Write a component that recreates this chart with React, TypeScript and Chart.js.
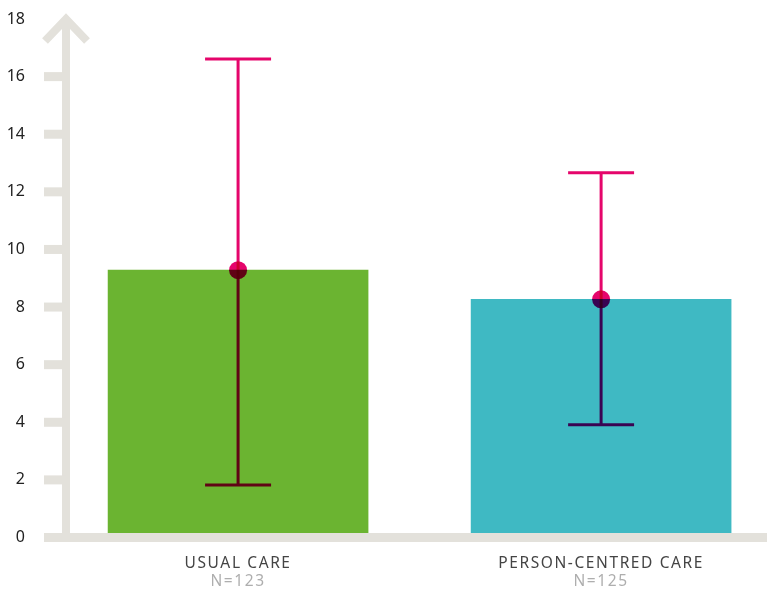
import { useEffect, useRef } from "react";
import { Chart, registerables } from "chart.js";

Chart.register(...registerables);

const categories = ["USUAL CARE", "PERSON-CENTRED CARE"];
const sampleSizes = ["N=123", "N=125"];
const means = [9.28, 8.27];
const lowerCI = [1.82, 3.91];
const upperCI = [16.61, 12.66];
const barColors = ["#6BB431", "#3FB9C3"];

const AXIS_COLOR = "#E3E1DB";
const ERR_COLOR = "#E5056B";
const FONT = "'Noto Sans', 'Open Sans', sans-serif";

const decorPlugin = {
  id: "decor",
  afterDatasetsDraw(chart: any) {
    const { ctx, chartArea, scales } = chart;
    const x = scales.x;
    const y = scales.y;
    const axisX = chartArea.left;
    const zeroY = y.getPixelForValue(0);
    const topY = y.getPixelForValue(y.max);
    ctx.save();
    ctx.fillStyle = AXIS_COLOR;
    // x axis band
    ctx.fillRect(axisX - 22, zeroY - 4.5, chart.width - (axisX - 22), 9);
    // y axis shaft
    ctx.fillRect(axisX - 4, topY, 8, zeroY - topY + 4.5);
    // tick marks (not at the top, where the arrow is)
    y.ticks.forEach((t: any) => {
      if (t.value >= y.max) return;
      const py = y.getPixelForValue(t.value);
      ctx.fillRect(axisX - 22, py - 4.5, 22, 9);
    });
    // arrow head
    ctx.strokeStyle = AXIS_COLOR;
    ctx.lineWidth = 8;
    ctx.lineCap = "butt";
    ctx.lineJoin = "miter";
    ctx.beginPath();
    ctx.moveTo(axisX - 21, topY + 22);
    ctx.lineTo(axisX, topY);
    ctx.lineTo(axisX + 21, topY + 22);
    ctx.stroke();

    // error bars with multiply blending
    ctx.globalCompositeOperation = "multiply";
    ctx.strokeStyle = ERR_COLOR;
    ctx.fillStyle = ERR_COLOR;
    ctx.lineWidth = 3;
    means.forEach((m, i) => {
      const cx = x.getPixelForValue(i);
      const yu = y.getPixelForValue(upperCI[i]);
      const yl = y.getPixelForValue(lowerCI[i]);
      const ym = y.getPixelForValue(m);
      ctx.beginPath();
      ctx.moveTo(cx, yu);
      ctx.lineTo(cx, yl);
      ctx.moveTo(cx - 33, yu);
      ctx.lineTo(cx + 33, yu);
      ctx.moveTo(cx - 33, yl);
      ctx.lineTo(cx + 33, yl);
      ctx.stroke();
      ctx.beginPath();
      ctx.arc(cx, ym, 9, 0, Math.PI * 2);
      ctx.fill();
    });
    ctx.restore();
  },
  afterDraw(chart: any) {
    const { ctx, scales } = chart;
    const x = scales.x;
    ctx.save();
    ctx.textAlign = "center";
    ctx.textBaseline = "middle";
    (ctx as any).letterSpacing = "1.6px";
    categories.forEach((c, i) => {
      const cx = x.getPixelForValue(i);
      ctx.font = `15.5px ${FONT}`;
      ctx.fillStyle = "#444444";
      ctx.fillText(c, cx, 564);
      ctx.fillStyle = "#AEAEAE";
      ctx.fillText(sampleSizes[i], cx, 582);
    });
    ctx.restore();
  },
};

export default function App() {
  const ref = useRef<HTMLCanvasElement | null>(null);
  useEffect(() => {
    if (!ref.current) return;
    const chart = new Chart(ref.current, {
      type: "bar",
      data: {
        labels: categories,
        datasets: [
          {
            data: means.map((m, i) => ({ x: i, y: m })) as any,
            backgroundColor: barColors,
            borderWidth: 0,
            barThickness: 260,
          },
        ],
      },
      options: {
        animation: false,
        responsive: false,
        maintainAspectRatio: false,
        layout: { padding: { left: 0, right: 0, top: 19, bottom: 51.5 } },
        plugins: { legend: { display: false }, tooltip: { enabled: false } },
        scales: {
          x: {
            type: "linear",
            display: false,
            offset: false,
            grid: { offset: false },
            min: -0.474,
            max: 1.457,
          },
          y: {
            min: 0,
            max: 18,
            ticks: {
              stepSize: 2,
              padding: 41,
              color: "#222222",
              font: { family: FONT, size: 16 },
            },
            grid: { display: false, drawTicks: false },
            border: { display: false },
            afterFit: (scale: any) => {
              scale.width = 66;
              scale.paddingTop = 10;
              scale.paddingBottom = 10;
            },
          },
        },
      },
      plugins: [decorPlugin],
    });
    return () => chart.destroy();
  }, []);
  return (
    <div style={{ position: "absolute", left: 0, top: 0, width: 767, height: 589 }}>
      <canvas ref={ref} width={767} height={589} />
    </div>
  );
}
